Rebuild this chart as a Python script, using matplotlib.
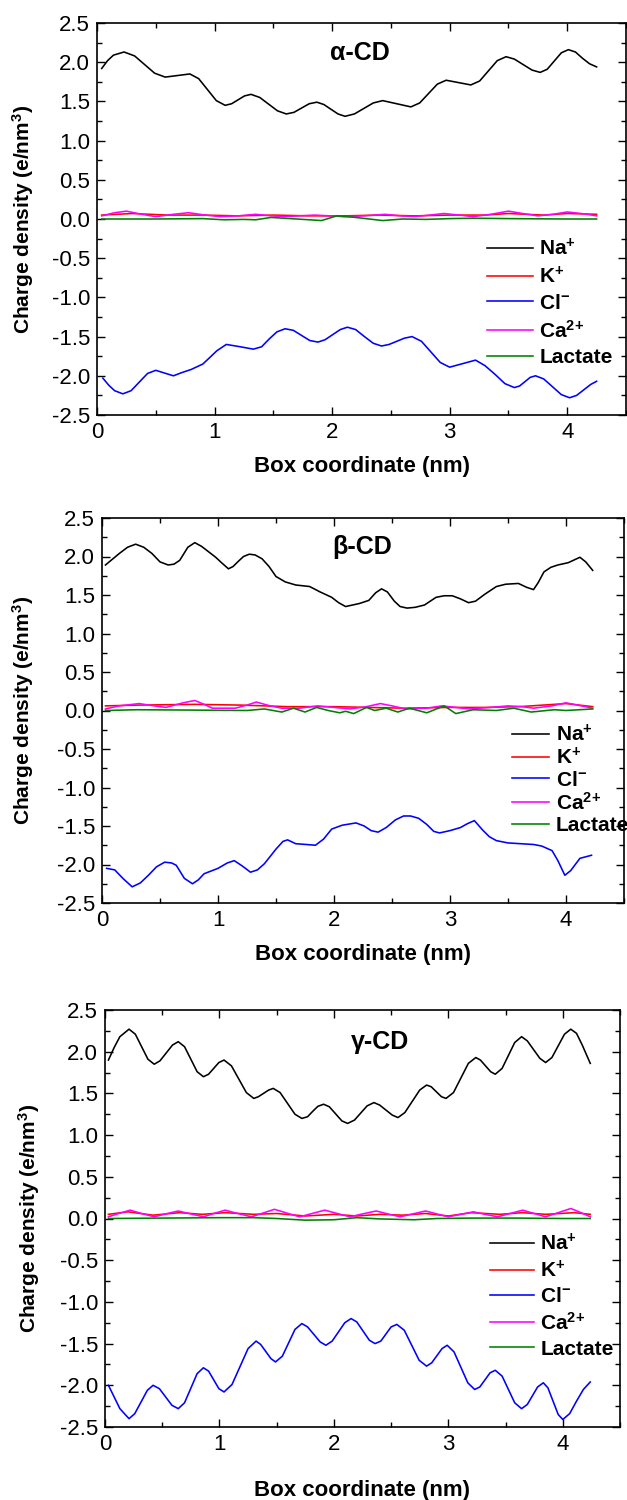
import matplotlib
matplotlib.use("Agg")
import matplotlib.pyplot as plt
from matplotlib.ticker import MultipleLocator

plt.rcParams['font.family'] = ['Liberation Sans', 'DejaVu Sans']
plt.rcParams['mathtext.fontset'] = 'custom'
plt.rcParams['mathtext.rm'] = 'Liberation Sans:bold'
plt.rcParams['mathtext.it'] = 'Liberation Sans:bold'
plt.rcParams['mathtext.bf'] = 'Liberation Sans:bold'
plt.rcParams['axes.unicode_minus'] = False

species = ['Na$^{{+}}$', 'K$^{{+}}$', 'Cl$^{{-}}$', 'Ca$^{2{+}}$', 'Lactate']
colors = ['#000000', '#ff0000', '#0000ff', '#ff00ff', '#008000']
titles = ['α-CD', 'β-CD', 'γ-CD']

# ---------------- alpha-CD ----------------
a_na_x = [0.04, 0.09, 0.14, 0.23, 0.32, 0.405, 0.49, 0.58, 0.685, 0.79, 0.865, 0.94, 1.015, 1.09, 1.145, 1.20, 1.255, 1.31,
          1.385, 1.46, 1.535, 1.61, 1.675, 1.74, 1.805, 1.87, 1.93, 1.99, 2.05, 2.11, 2.19, 2.27, 2.35, 2.43, 2.55, 2.67,
          2.745, 2.82, 2.895, 2.97, 3.075, 3.18, 3.255, 3.33, 3.405, 3.48, 3.55, 3.625, 3.70, 3.77, 3.83, 3.89, 3.95,
          4.01, 4.07, 4.13, 4.19, 4.25]
a_na_y = [1.92, 2.02, 2.09, 2.13, 2.08, 1.97, 1.86, 1.81, 1.83, 1.85, 1.79, 1.65, 1.51, 1.45, 1.47, 1.52, 1.57, 1.59,
          1.55, 1.465, 1.38, 1.34, 1.36, 1.415, 1.47, 1.49, 1.46, 1.40, 1.34, 1.31, 1.34, 1.41, 1.48, 1.51, 1.47, 1.43,
          1.48, 1.60, 1.72, 1.77, 1.74, 1.71, 1.76, 1.89, 2.02, 2.07, 2.04, 1.97, 1.90, 1.87, 1.91, 2.015, 2.12,
          2.16, 2.13, 2.05, 1.98, 1.94]
a_k_x = [0.04, 0.3, 0.6, 0.9, 1.2, 1.5, 1.8, 2.1, 2.4, 2.7, 3.0, 3.3, 3.5, 3.8, 4.0, 4.25]
a_k_y = [0.05, 0.07, 0.05, 0.05, 0.04, 0.05, 0.04, 0.04, 0.05, 0.04, 0.05, 0.05, 0.07, 0.05, 0.07, 0.06]
a_cl_x = [0.05, 0.10, 0.15, 0.22, 0.29, 0.36, 0.43, 0.50, 0.575, 0.65, 0.72, 0.80, 0.90, 0.95, 1.02, 1.10, 1.22, 1.33,
          1.40, 1.465, 1.53, 1.60, 1.67, 1.74, 1.81, 1.88, 1.94, 2.005, 2.07, 2.13, 2.20, 2.275, 2.35, 2.42, 2.485,
          2.55, 2.615, 2.68, 2.76, 2.84, 2.92, 3.00, 3.11, 3.22, 3.30, 3.385, 3.47, 3.55, 3.595, 3.64, 3.685, 3.73,
          3.80, 3.875, 3.95, 4.02, 4.08, 4.14, 4.20, 4.25]
a_cl_y = [-2.03, -2.12, -2.19, -2.23, -2.19, -2.08, -1.97, -1.93, -1.965, -2.00, -1.96, -1.92, -1.85, -1.78, -1.68,
          -1.60, -1.63, -1.66, -1.63, -1.53, -1.44, -1.40, -1.42, -1.485, -1.55, -1.57, -1.54, -1.475, -1.41, -1.38,
          -1.41, -1.50, -1.585, -1.62, -1.60, -1.56, -1.52, -1.50, -1.56, -1.695, -1.83, -1.89, -1.845, -1.80, -1.87,
          -1.98, -2.10, -2.15, -2.13, -2.075, -2.02, -2.00, -2.04, -2.14, -2.24, -2.28, -2.25, -2.18, -2.11, -2.07]
a_ca_x = [0.04, 0.15, 0.25, 0.38, 0.5, 0.65, 0.78, 0.92, 1.05, 1.2, 1.35, 1.48, 1.6, 1.72, 1.85, 1.98, 2.1, 2.28, 2.45,
          2.58, 2.7, 2.83, 2.95, 3.08, 3.2, 3.35, 3.5, 3.62, 3.75, 3.88, 4.0, 4.12, 4.25]
a_ca_y = [0.04, 0.08, 0.10, 0.06, 0.03, 0.06, 0.08, 0.05, 0.03, 0.04, 0.06, 0.04, 0.03, 0.04, 0.05, 0.04, 0.03, 0.04,
          0.06, 0.04, 0.03, 0.05, 0.07, 0.05, 0.03, 0.06, 0.10, 0.07, 0.04, 0.06, 0.09, 0.07, 0.04]
a_lac_x = [0.04, 0.5, 0.9, 1.08, 1.25, 1.35, 1.48, 1.7, 1.91, 2.04, 2.2, 2.43, 2.6, 2.8, 3.0, 3.2, 3.5, 4.0, 4.25]
a_lac_y = [0.0, 0.0, 0.005, -0.01, -0.005, -0.01, 0.02, 0.0, -0.02, 0.04, 0.02, -0.02, 0.0, -0.005, 0.005, 0.01,
           0.005, 0.0, 0.0]

# ---------------- beta-CD ----------------
b_na_x = [0.03, 0.15, 0.22, 0.29, 0.36, 0.43, 0.50, 0.57, 0.62, 0.67, 0.74, 0.80, 0.86, 0.98, 1.03, 1.09, 1.13, 1.17,
          1.22, 1.27, 1.32, 1.38, 1.44, 1.50, 1.58, 1.67, 1.79, 1.88, 1.98, 2.04, 2.10, 2.16, 2.22, 2.30, 2.36, 2.41,
          2.46, 2.52, 2.57, 2.63, 2.70, 2.78, 2.88, 2.95, 3.02, 3.09, 3.16, 3.22, 3.30, 3.40, 3.48, 3.59, 3.66, 3.72,
          3.76, 3.81, 3.87, 3.93, 4.02, 4.12, 4.17, 4.23]
b_na_y = [1.89, 2.04, 2.12, 2.16, 2.12, 2.04, 1.93, 1.89, 1.90, 1.95, 2.12, 2.18, 2.13, 1.99, 1.92, 1.84, 1.87, 1.93,
          2.00, 2.03, 2.02, 1.97, 1.87, 1.74, 1.67, 1.63, 1.61, 1.54, 1.47, 1.40, 1.35, 1.37, 1.39, 1.43, 1.53, 1.58,
          1.54, 1.42, 1.35, 1.33, 1.34, 1.37, 1.47, 1.49, 1.49, 1.45, 1.40, 1.42, 1.51, 1.61, 1.64, 1.65, 1.60, 1.57,
          1.66, 1.80, 1.86, 1.89, 1.92, 1.99, 1.93, 1.82]
b_k_x = [0.03, 0.3, 0.8, 1.2, 1.6, 2.0, 2.3, 2.6, 3.0, 3.3, 3.6, 3.8, 4.0, 4.23]
b_k_y = [0.06, 0.07, 0.08, 0.07, 0.05, 0.05, 0.04, 0.03, 0.04, 0.04, 0.05, 0.07, 0.09, 0.05]
b_cl_x = [0.04, 0.11, 0.18, 0.26, 0.33, 0.40, 0.47, 0.54, 0.60, 0.64, 0.71, 0.78, 0.83, 0.88, 1.00, 1.08, 1.14, 1.21,
          1.28, 1.34, 1.40, 1.50, 1.56, 1.60, 1.67, 1.76, 1.84, 1.91, 1.98, 2.07, 2.19, 2.26, 2.32, 2.38, 2.45, 2.53,
          2.60, 2.66, 2.73, 2.80, 2.86, 2.91, 3.00, 3.09, 3.15, 3.21, 3.28, 3.34, 3.40, 3.50, 3.61, 3.72, 3.79, 3.88,
          3.93, 3.99, 4.04, 4.12, 4.22]
b_cl_y = [-2.05, -2.07, -2.18, -2.29, -2.24, -2.14, -2.03, -1.97, -1.98, -2.01, -2.18, -2.25, -2.20, -2.12, -2.05,
          -1.98, -1.95, -2.02, -2.10, -2.07, -1.99, -1.80, -1.70, -1.68, -1.73, -1.74, -1.75, -1.67, -1.54, -1.49,
          -1.46, -1.50, -1.56, -1.58, -1.52, -1.42, -1.37, -1.37, -1.40, -1.48, -1.57, -1.59, -1.56, -1.52, -1.47,
          -1.43, -1.55, -1.64, -1.69, -1.72, -1.73, -1.74, -1.76, -1.82, -1.95, -2.14, -2.08, -1.92, -1.88]
b_ca_x = [0.03, 0.15, 0.32, 0.45, 0.55, 0.7, 0.80, 0.88, 0.95, 1.15, 1.25, 1.33, 1.45, 1.55, 1.7, 1.86, 2.0, 2.14, 2.28,
          2.40, 2.5, 2.62, 2.8, 2.93, 3.05, 3.16, 3.35, 3.5, 3.62, 3.72, 3.88, 4.0, 4.1, 4.23]
b_ca_y = [0.02, 0.06, 0.09, 0.06, 0.04, 0.10, 0.13, 0.08, 0.03, 0.03, 0.07, 0.11, 0.06, 0.03, 0.03, 0.06, 0.04, 0.02,
          0.05, 0.09, 0.06, 0.02, 0.03, 0.06, 0.04, 0.02, 0.04, 0.06, 0.05, 0.03, 0.06, 0.10, 0.07, 0.03]
b_lac_x = [0.03, 0.3, 0.8, 1.25, 1.40, 1.55, 1.65, 1.75, 1.85, 1.95, 2.05, 2.1, 2.17, 2.28, 2.35, 2.45, 2.55, 2.65, 2.8,
           2.95, 3.05, 3.2, 3.4, 3.55, 3.7, 3.9, 4.0, 4.23]
b_lac_y = [0.0, 0.01, 0.005, 0.0, 0.02, -0.02, 0.03, -0.02, 0.04, 0.0, -0.03, -0.01, -0.04, 0.04, 0.0, 0.03, -0.02,
           0.03, -0.03, 0.06, -0.04, 0.01, 0.0, 0.03, -0.02, 0.01, 0.0, 0.02]

# ---------------- gamma-CD ----------------
g_na_x = [0.03, 0.08, 0.13, 0.21, 0.265, 0.32, 0.375, 0.43, 0.48, 0.535, 0.59, 0.64, 0.695, 0.75, 0.805, 0.86, 0.905,
          0.95, 0.995, 1.04, 1.105, 1.17, 1.235, 1.30, 1.34, 1.385, 1.43, 1.47, 1.53, 1.595, 1.66, 1.72, 1.77, 1.815,
          1.86, 1.91, 1.96, 2.015, 2.07, 2.12, 2.18, 2.235, 2.29, 2.35, 2.40, 2.455, 2.51, 2.56, 2.62, 2.685, 2.75,
          2.81, 2.85, 2.895, 2.94, 2.98, 3.045, 3.11, 3.175, 3.24, 3.28, 3.325, 3.37, 3.41, 3.47, 3.525, 3.58, 3.64,
          3.69, 3.745, 3.80, 3.85, 3.905, 3.96, 4.015, 4.07, 4.12, 4.17, 4.24]
g_na_y = [1.90, 2.05, 2.18, 2.27, 2.21, 2.06, 1.91, 1.85, 1.89, 1.985, 2.08, 2.12, 2.06, 1.91, 1.76, 1.70, 1.73,
          1.80, 1.87, 1.90, 1.83, 1.67, 1.51, 1.44, 1.46, 1.50, 1.54, 1.56, 1.51, 1.38, 1.25, 1.20, 1.22, 1.285,
          1.345, 1.37, 1.34, 1.255, 1.17, 1.14, 1.18, 1.265, 1.35, 1.39, 1.36, 1.30, 1.24, 1.21, 1.27, 1.405, 1.54,
          1.60, 1.58, 1.52, 1.46, 1.44, 1.51, 1.685, 1.86, 1.93, 1.90, 1.83, 1.76, 1.73, 1.80, 1.955, 2.11, 2.18,
          2.13, 2.025, 1.92, 1.87, 1.93, 2.07, 2.21, 2.27, 2.22, 2.08, 1.86]
g_k_x = [0.03, 0.2, 0.42, 0.65, 0.85, 1.05, 1.3, 1.5, 1.75, 2.0, 2.2, 2.4, 2.6, 2.8, 3.0, 3.2, 3.45, 3.65, 3.85, 4.1, 4.24]
g_k_y = [0.05, 0.08, 0.04, 0.07, 0.05, 0.07, 0.05, 0.06, 0.03, 0.05, 0.03, 0.05, 0.04, 0.06, 0.03, 0.07, 0.05, 0.07,
         0.05, 0.07, 0.05]
g_cl_x = [0.03, 0.08, 0.13, 0.21, 0.26, 0.315, 0.37, 0.42, 0.475, 0.53, 0.585, 0.64, 0.695, 0.75, 0.805, 0.86, 0.905,
          0.95, 0.995, 1.04, 1.11, 1.18, 1.25, 1.32, 1.36, 1.405, 1.45, 1.49, 1.55, 1.605, 1.66, 1.72, 1.77, 1.825,
          1.88, 1.93, 1.985, 2.04, 2.095, 2.15, 2.20, 2.255, 2.31, 2.36, 2.41, 2.455, 2.50, 2.55, 2.615, 2.68, 2.745,
          2.81, 2.855, 2.90, 2.945, 2.99, 3.05, 3.11, 3.17, 3.23, 3.275, 3.32, 3.365, 3.41, 3.47, 3.525, 3.58, 3.64,
          3.69, 3.735, 3.78, 3.83, 3.87, 3.915, 3.96, 4.00, 4.06, 4.12, 4.18, 4.24]
g_cl_y = [-2.00, -2.14, -2.28, -2.40, -2.34, -2.20, -2.06, -2.00, -2.04, -2.14, -2.24, -2.28, -2.21, -2.035, -1.86,
          -1.79, -1.83, -1.935, -2.04, -2.08, -1.99, -1.775, -1.56, -1.47, -1.51, -1.595, -1.68, -1.72, -1.65, -1.49,
          -1.33, -1.26, -1.30, -1.39, -1.48, -1.52, -1.47, -1.36, -1.25, -1.20, -1.24, -1.35, -1.46, -1.50, -1.47,
          -1.385, -1.30, -1.27, -1.34, -1.52, -1.70, -1.77, -1.73, -1.645, -1.56, -1.52, -1.60, -1.785, -1.97, -2.05,
          -2.02, -1.935, -1.85, -1.82, -1.89, -2.05, -2.21, -2.28, -2.23, -2.125, -2.02, -1.97, -2.03, -2.19, -2.35,
          -2.41, -2.34, -2.19, -2.05, -1.96]
g_ca_x = [0.03, 0.12, 0.22, 0.32, 0.43, 0.53, 0.64, 0.75, 0.86, 0.95, 1.05, 1.16, 1.28, 1.38, 1.48, 1.59, 1.70, 1.81,
          1.92, 2.03, 2.14, 2.25, 2.37, 2.47, 2.58, 2.69, 2.80, 2.90, 3.00, 3.11, 3.22, 3.32, 3.43, 3.54, 3.65, 3.75,
          3.85, 3.96, 4.07, 4.16, 4.24]
g_ca_y = [0.02, 0.06, 0.10, 0.06, 0.02, 0.055, 0.09, 0.055, 0.02, 0.06, 0.10, 0.06, 0.02, 0.065, 0.11, 0.065, 0.02,
          0.06, 0.10, 0.06, 0.02, 0.055, 0.09, 0.055, 0.02, 0.055, 0.09, 0.055, 0.02, 0.05, 0.08, 0.05, 0.02, 0.06,
          0.10, 0.06, 0.02, 0.07, 0.12, 0.07, 0.02]
g_lac_x = [0.03, 0.5, 1.0, 1.3, 1.5, 1.75, 2.0, 2.2, 2.4, 2.7, 2.9, 3.2, 3.6, 4.0, 4.24]
g_lac_y = [0.0, 0.005, 0.01, 0.01, 0.0, -0.02, -0.015, 0.01, -0.005, -0.015, 0.0, 0.005, 0.005, 0.0, 0.0]

panels = [
    [(a_na_x, a_na_y), (a_k_x, a_k_y), (a_cl_x, a_cl_y), (a_ca_x, a_ca_y), (a_lac_x, a_lac_y)],
    [(b_na_x, b_na_y), (b_k_x, b_k_y), (b_cl_x, b_cl_y), (b_ca_x, b_ca_y), (b_lac_x, b_lac_y)],
    [(g_na_x, g_na_y), (g_k_x, g_k_y), (g_cl_x, g_cl_y), (g_ca_x, g_ca_y), (g_lac_x, g_lac_y)],
]

W, H = 627, 1500
fig = plt.figure(figsize=(W / 100, H / 100), dpi=100)

# axes boxes in pixels: left, right, top, bottom
boxes = [(97, 626, 23, 415), (102, 624, 518, 903), (105, 620, 1010, 1427)]
title_pos = [(2.24, 2.12), (2.24, 2.12), (2.40, 2.12)]
leg_anchor = [(0.738, 0.452), (0.785, 0.465), (0.748, 0.466)]
leg_spacing = [0.32, 0.1, 0.28]
leg_hlen = [2.2, 1.8, 2.1]
ylab_x = [-0.115, -0.126, -0.122]
xlab_y = [-0.105, -0.106, -0.128]

for i, series in enumerate(panels):
    l, r, t, b = boxes[i]
    ax = fig.add_axes([l / W, 1 - b / H, (r - l) / W, (b - t) / H])
    for (xs, ys), lab, c in zip(series, species, colors):
        ax.plot(xs, ys, color=c, lw=1.15, label=lab, solid_joinstyle='round')
    ax.set_xlim(0, 4.5)
    ax.set_ylim(-2.5, 2.5)
    ax.xaxis.set_major_locator(MultipleLocator(1))
    ax.xaxis.set_minor_locator(MultipleLocator(0.5))
    ax.yaxis.set_minor_locator(MultipleLocator(0.25))
    ax.set_yticks([-2.5, -2.0, -1.5, -1.0, -0.5, 0.0, 0.5, 1.0, 1.5, 2.0, 2.5])
    ax.set_yticklabels(['-2.5', '-2.0', '-1.5', '-1.0', '-0.5', '0.0', '0.5', '1.0', '1.5', '2.0', '2.5'])
    ax.tick_params(which='both', direction='in', top=True, right=True, width=1.0, labelsize=16, pad=5)
    ax.tick_params(which='major', length=6)
    ax.tick_params(which='minor', length=3.5)
    for s in ax.spines.values():
        s.set_linewidth(1.2)
    ax.set_xlabel('Box coordinate (nm)', fontsize=16, fontweight='bold')
    ax.set_ylabel('Charge density (e/nm$^{3}$)', fontsize=15, fontweight='bold')
    ax.yaxis.set_label_coords(ylab_x[i], 0.5)
    ax.xaxis.set_label_coords(0.5, xlab_y[i])
    ax.text(title_pos[i][0], title_pos[i][1], titles[i], fontsize=18, fontweight='bold',
            ha='center', va='center')
    ax.legend(loc='upper left', bbox_to_anchor=leg_anchor[i], frameon=False, borderpad=0,
              borderaxespad=0, handlelength=leg_hlen[i], handletextpad=0.3,
              labelspacing=leg_spacing[i], prop={'weight': 'bold', 'size': 15})

fig.savefig('out.png', dpi=100)
